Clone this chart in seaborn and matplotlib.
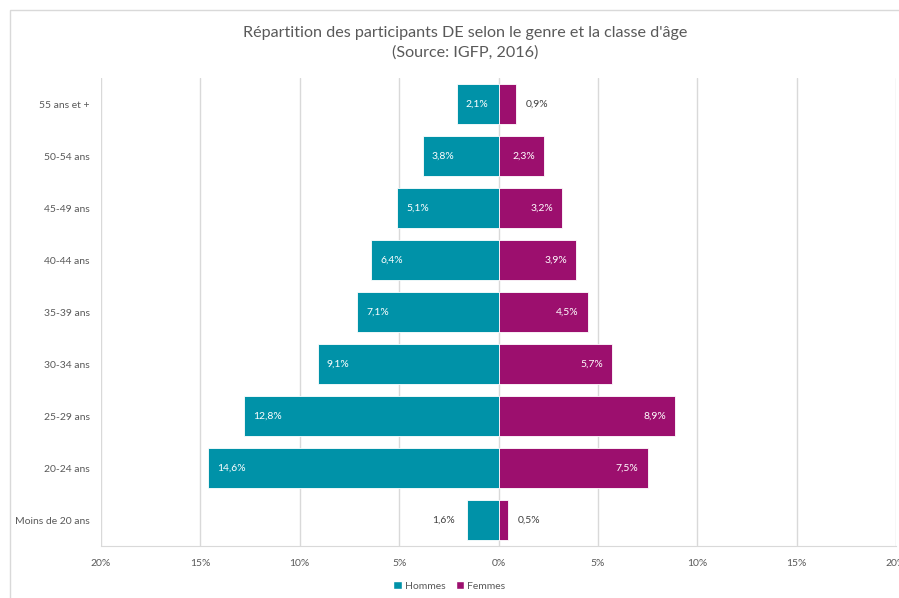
import numpy as np
import pandas as pd
import matplotlib
matplotlib.use("Agg")
from matplotlib import pyplot as plt
from matplotlib.patches import Rectangle, Patch
from matplotlib.ticker import FuncFormatter
import seaborn as sb

# Data (percent)
classes = ["55 ans et +", "50-54 ans", "45-49 ans", "40-44 ans", "35-39 ans",
           "30-34 ans", "25-29 ans", "20-24 ans", "Moins de 20 ans"]
hommes = [2.1, 3.8, 5.1, 6.4, 7.1, 9.1, 12.8, 14.6, 1.6]
femmes = [0.9, 2.3, 3.2, 3.9, 4.5, 5.7, 8.9, 7.5, 0.5]
x_ticks = [-20, -15, -10, -5, 0, 5, 10, 15, 20]

teal = "#0092A8"
plum = "#9C0F6E"
grey = "#595959"

sb.set_style("white")
plt.rcParams["font.family"] = ["Lato", "DejaVu Sans"]

df = pd.DataFrame({"classe": classes,
                   "Hommes": [-v for v in hommes],
                   "Femmes": femmes})

fig = plt.figure(figsize=(8.99, 5.98), dpi=100)
# chart frame (cropped Excel chart area)
fig.patches.append(Rectangle((10 / 899, -0.1), 1.2, 1 - 10 / 598 + 0.1,
                             transform=fig.transFigure, fill=False,
                             edgecolor="#D9D9D9", linewidth=1))
ax = fig.add_axes([101 / 899, 1 - 546 / 598, 795 / 899, 468 / 598])

sb.barplot(data=df, y="classe", x="Hommes", color=teal, orient="h",
           width=0.77, ax=ax, saturation=1, zorder=3)
sb.barplot(data=df, y="classe", x="Femmes", color=plum, orient="h",
           width=0.77, ax=ax, saturation=1, zorder=3)
for p in ax.patches:
    p.set_edgecolor("white")
    p.set_linewidth(0.6)

ax.set_xlim(-20, 20)
ax.set_xticks(x_ticks)
ax.xaxis.set_major_formatter(FuncFormatter(lambda v, _: f"{abs(v):.0f}%"))
ax.grid(axis="x", color="#D9D9D9", linewidth=1, zorder=0)
ax.set_xlabel("")
ax.set_ylabel("")
for s in ["top", "right", "left"]:
    ax.spines[s].set_visible(False)
ax.spines["bottom"].set_color("#D9D9D9")
ax.tick_params(axis="x", colors=grey, labelsize=7.5, length=4, color="#D9D9D9", pad=5)
ax.tick_params(axis="y", colors=grey, labelsize=7.5, length=0, pad=8)

def fmt(v):
    return f"{v:.1f}".replace(".", ",") + "%"

for i, (h, f) in enumerate(zip(hommes, femmes)):
    if h >= 2:
        ax.text(-h + 0.45, i, fmt(h), color="white", fontsize=7.5,
                va="center", ha="left", zorder=4)
    else:
        ax.text(-h - 0.6, i, fmt(h), color="#404040", fontsize=7.5,
                va="center", ha="right", zorder=4)
    if f >= 2:
        ax.text(f - 0.45, i, fmt(f), color="white", fontsize=7.5,
                va="center", ha="right", zorder=4)
    else:
        ax.text(f + 0.45, i, fmt(f), color="#404040", fontsize=7.5,
                va="center", ha="left", zorder=4)

title_x = 465 / 899
fig.text(title_x, 1 - 33 / 598, "Répartition des participants DE selon le genre et la classe d'âge",
         ha="center", va="center", fontsize=11.6, color=grey)
fig.text(title_x, 1 - 53 / 598, "(Source: IGFP, 2016)",
         ha="center", va="center", fontsize=11.6, color=grey)

handles = [Patch(facecolor=teal, label="Hommes"), Patch(facecolor=plum, label="Femmes")]
fig.legend(handles=handles, loc="center", bbox_to_anchor=(0.5, 1 - 586 / 598), ncol=2,
           frameon=False, fontsize=7.5, labelcolor=grey, handlelength=0.8,
           handleheight=0.8, handletextpad=0.3, columnspacing=1.0)

fig.savefig("out.png", dpi=100)
